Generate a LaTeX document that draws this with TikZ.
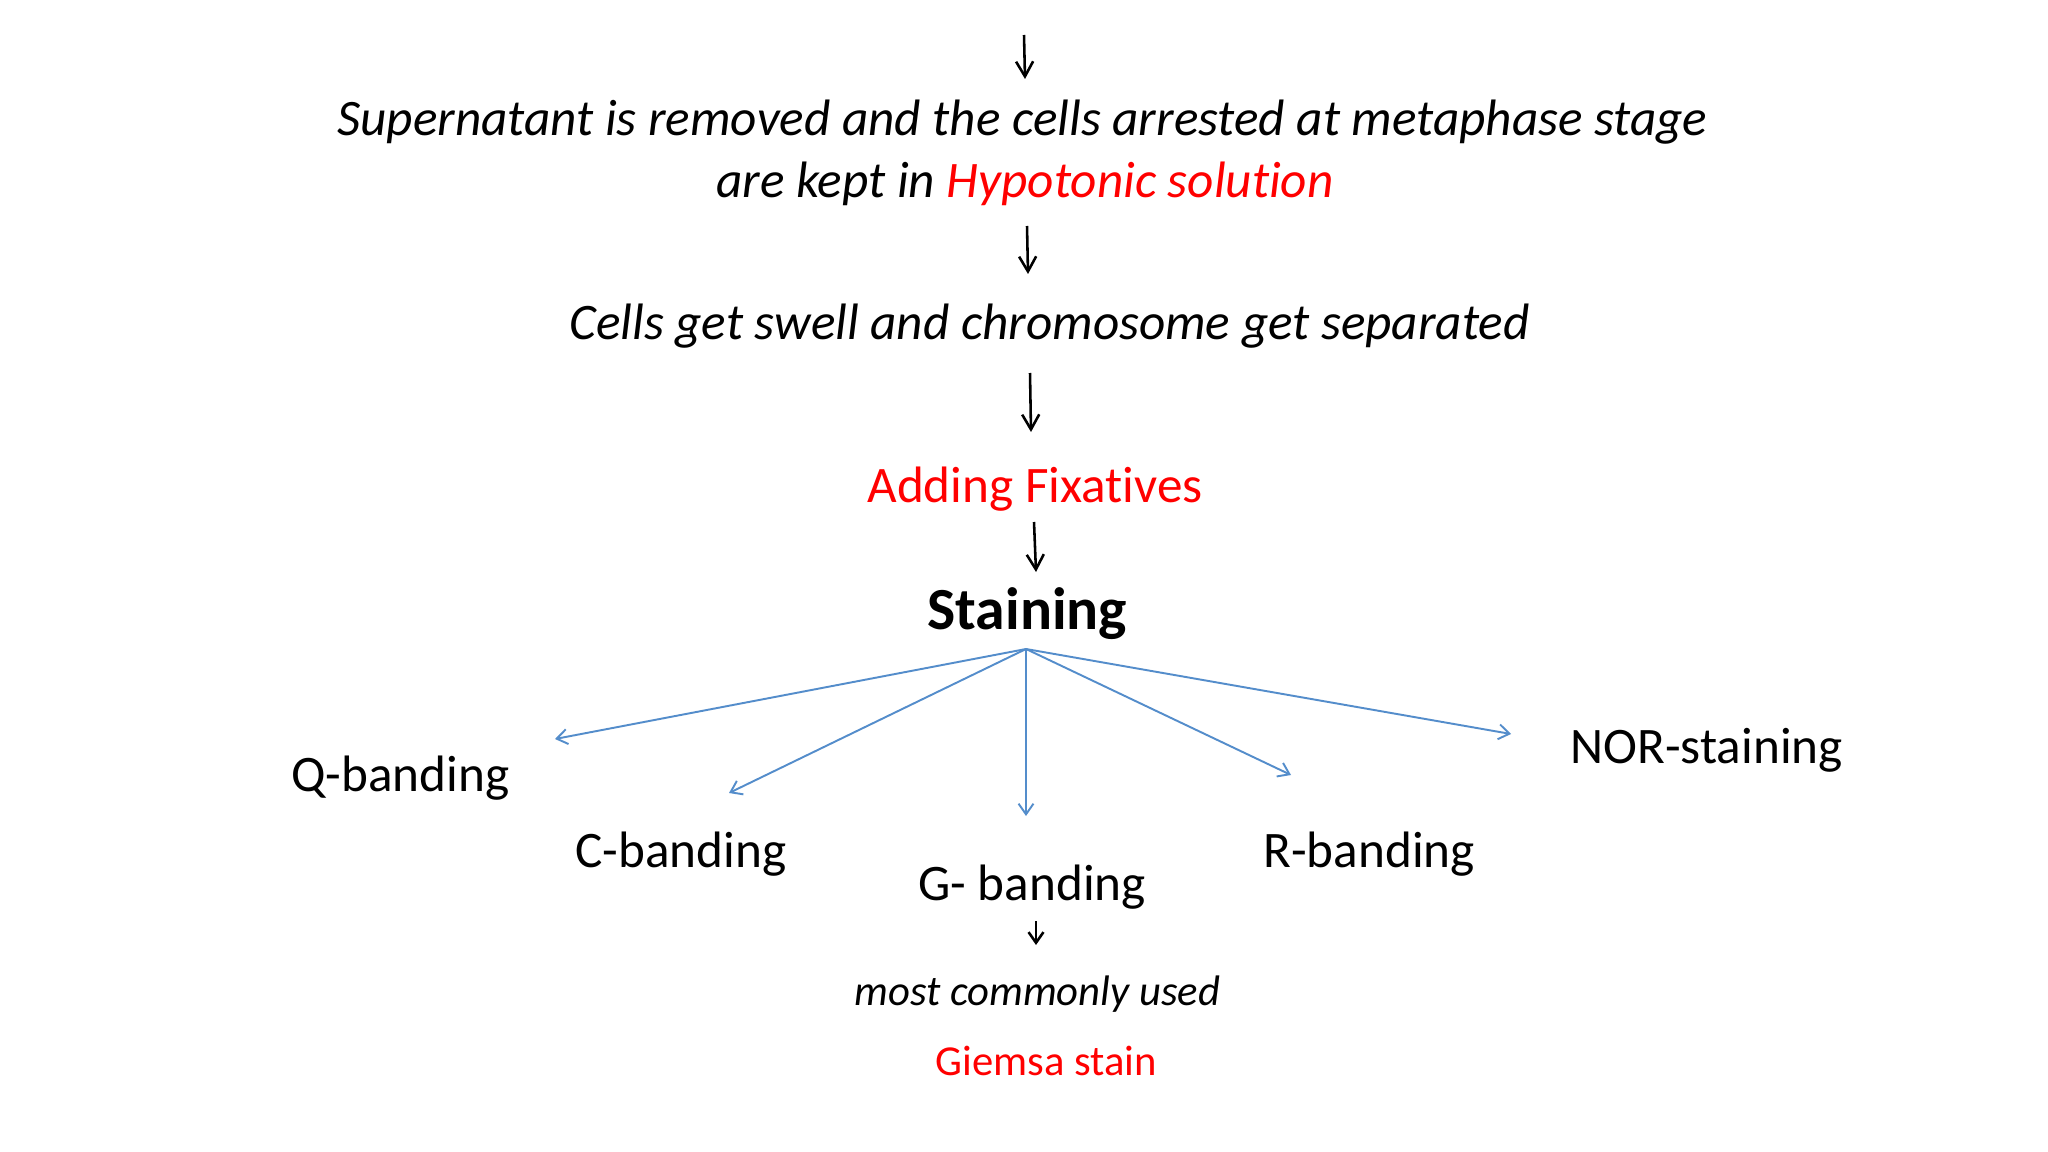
\documentclass[tikz,border=0pt]{standalone}
\usepackage{fontspec}
\setmainfont[Ligatures={NoCommon,NoContextual,NoRequired},RawFeature={-liga;-clig;-dlig;-rlig}]{Carlito}
\usetikzlibrary{arrows.meta}
\definecolor{pptred}{RGB}{255,0,0}
\definecolor{pptblue}{RGB}{84,141,203}
\begin{document}
\begin{tikzpicture}[x=0.46875pt,y=-0.46875pt,
  txt/.style={anchor=base west,inner sep=0pt,font=\fontsize{24}{29}\selectfont},
  itxt/.style={txt,font=\fontsize{24}{29}\selectfont\itshape},
  flow/.style={line width=1.2pt,-{Straight Barb[length=7pt,width=8pt,line width=1.2pt]}},
  fan/.style={draw=pptblue,line width=0.9pt,-{Straight Barb[length=5pt,width=7pt,line width=0.9pt]}}]
\useasboundingbox[fill=white] (0,0) rectangle (2048,1152);
% texts
\node[itxt] (l1) at (337,136) {Supernatant is removed and the cells arrested at metaphase stage};
\node[itxt] (l2) at (716,198) {are kept in \textcolor{pptred}{Hypotonic solut\kern0pt ion}};
\node[itxt] (cells) at (569,340) {Cells get swell and chromosome get separated};
\node[txt,text=pptred] (fix) at (867,502) {Adding Fixat\kern0pt ives};
\node[txt,font=\fontsize{28}{34}\selectfont\bfseries] (stain) at (927,629) {Staining};
\node[txt] (q) at (291,791) {Q-banding};
\node[txt] (c) at (575,867) {C-banding};
\node[txt] (g) at (918,900) {G- banding};
\node[txt] (r) at (1263,867) {R-banding};
\node[txt] (nor) at (1570,763) {NOR-staining};
\node[itxt,font=\fontsize{20}{24}\selectfont\itshape] (most) at (854,1005) {most commonly used};
\node[txt,font=\fontsize{20}{24}\selectfont,text=pptred] (giemsa) at (935,1075) {Giemsa stain};
% flow arrows
\coordinate (a1s) at (1024,35);  \coordinate (a1e) at (1025,79);
\coordinate (a2s) at (1027,226); \coordinate (a2e) at (1028,274);
\coordinate (a3s) at (1030,373); \coordinate (a3e) at (1031,432);
\coordinate (a4s) at (1034,522); \coordinate (a4e) at (1036,572);
\coordinate (a5s) at (1036,921); \coordinate (a5e) at (1036,945);
\draw[flow] (a1s) -- (a1e);
\draw[flow] (a2s) -- (a2e);
\draw[flow] (a3s) -- (a3e);
\draw[flow] (a4s) -- (a4e);
\draw[line width=1.2pt,-{Straight Barb[length=5pt,width=7pt,line width=1.2pt]}] (a5s) -- (a5e);
% fan
\coordinate (hub) at (1026,649);
\coordinate (qe) at (555,739);
\coordinate (ce) at (729,793);
\coordinate (ge) at (1026,816);
\coordinate (re) at (1291,775);
\coordinate (ne) at (1511,734);
\draw[fan] (hub) -- (qe);
\draw[fan] (hub) -- (ce);
\draw[fan,line width=0.7pt] (hub) -- (ge);
\draw[fan] (hub) -- (re);
\draw[fan] (hub) -- (ne);
\end{tikzpicture}
\end{document}
